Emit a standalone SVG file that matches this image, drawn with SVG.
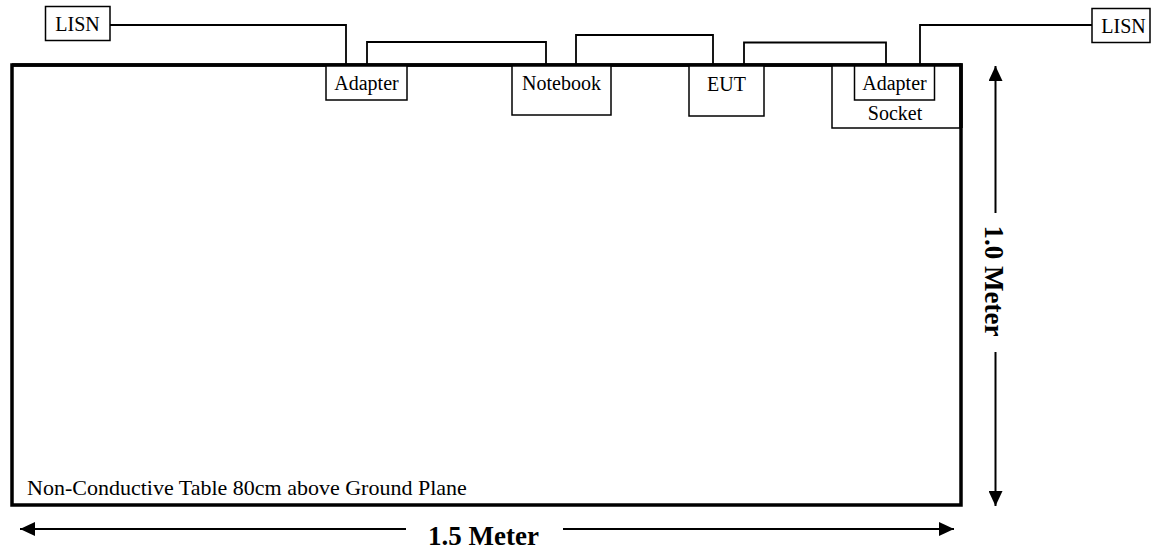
<svg xmlns="http://www.w3.org/2000/svg" width="1151" height="551" viewBox="0 0 1151 551">
<style>
.box{fill:#fff;stroke:#000;stroke-width:1.5}
.t{font-family:"Liberation Serif","Times New Roman",serif;font-size:20px;fill:#000}
.b{font-family:"Liberation Serif","Times New Roman",serif;font-size:27px;font-weight:bold;fill:#000}
.w{fill:none;stroke:#000;stroke-width:1.8}
.dim{fill:none;stroke:#000;stroke-width:2}
</style>
<defs>
<marker id="ah" viewBox="0 0 15 14" refX="15" refY="7" markerWidth="15" markerHeight="14" markerUnits="userSpaceOnUse" orient="auto-start-reverse">
<path d="M0,0 L15,7 L0,14 Z" fill="#000"/>
</marker>
</defs>
<rect width="1151" height="551" fill="#fff"/>
<g id="table">
<rect x="12" y="65" width="949" height="440" fill="#fff" stroke="#000" stroke-width="3.5"/>
<text class="t" x="27" y="495" style="font-size:22px">Non-Conductive Table 80cm above Ground Plane</text>
</g>
<g id="connectors">
<polyline class="w" points="110,25 346,25 346,65"/>
<polyline class="w" points="367,65 367,42 546,42 546,65"/>
<polyline class="w" points="576,65 576,35 713,35 713,65"/>
<polyline class="w" points="744,65 744,42.5 886,42.5 886,65"/>
<polyline class="w" points="920,65 920,25 1092,25"/>
</g>
<g id="lisn-left">
<rect class="box" x="45.5" y="6.5" width="64.5" height="34"/>
<text class="t" x="77.5" y="31" text-anchor="middle">LISN</text>
</g>
<g id="adapter-left">
<rect class="box" x="326" y="65" width="81" height="35"/>
<text class="t" x="366.5" y="90" text-anchor="middle">Adapter</text>
</g>
<g id="notebook">
<rect class="box" x="512" y="65" width="99" height="50"/>
<text class="t" x="561.5" y="90" text-anchor="middle">Notebook</text>
</g>
<g id="eut">
<rect class="box" x="689" y="65" width="75" height="51"/>
<text class="t" x="726.5" y="91" text-anchor="middle">EUT</text>
</g>
<g id="socket">
<rect class="box" x="832" y="65" width="128" height="63"/>
<text class="t" x="895" y="120" text-anchor="middle">Socket</text>
</g>
<g id="adapter-right">
<rect class="box" x="854.5" y="65" width="80" height="35"/>
<text class="t" x="894.5" y="90" text-anchor="middle">Adapter</text>
</g>
<g id="lisn-right">
<rect class="box" x="1092" y="8.5" width="58" height="34"/>
<text class="t" x="1123.5" y="32.5" text-anchor="middle">LISN</text>
</g>
<g id="table-table-border">
<line x1="12" y1="65" x2="961" y2="65" stroke="#000" stroke-width="3.5"/>
<line x1="961" y1="63.25" x2="961" y2="128" stroke="#000" stroke-width="3.5"/>
</g>
<g id="dim-width">
<line class="dim" x1="406" y1="529" x2="20" y2="529" marker-end="url(#ah)"/>
<line class="dim" x1="563" y1="529" x2="954" y2="529" marker-end="url(#ah)"/>
<text class="b" x="483.5" y="545" text-anchor="middle">1.5 Meter</text>
</g>
<g id="dim-height">
<line class="dim" x1="995.5" y1="213" x2="995.5" y2="66" marker-end="url(#ah)"/>
<line class="dim" x1="995.5" y1="352" x2="995.5" y2="506" marker-end="url(#ah)"/>
<text class="b" transform="translate(985,281) rotate(90)" x="0" y="0" text-anchor="middle">1.0 Meter</text>
</g>
</svg>
